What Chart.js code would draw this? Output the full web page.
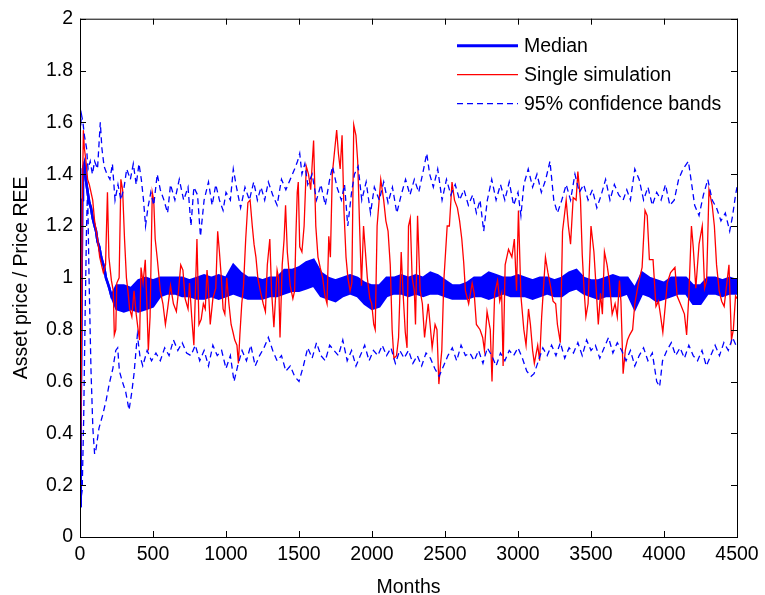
<!DOCTYPE html>
<html>
<head>
<meta charset="utf-8">
<script src="https://cdn.jsdelivr.net/npm/chart.js@4.4.1/dist/chart.umd.min.js"></script>
<style>
    body { margin: 0; background: #fff; }
    #wrap { width: 765px; height: 595px; }
</style>
</head>
<body>
<div id="wrap"><canvas id="assetChart" width="765" height="595"></canvas></div>
<script>
// [month, value]
const medianEarly = [
    [0, 0.12], [5, 0.5], [10, 0.9], [15, 1.3], [20, 1.42], [30, 1.44], [40, 1.38], [50, 1.34],
    [64, 1.29], [75, 1.27], [87, 1.23], [100, 1.2], [110, 1.18], [120, 1.14], [132, 1.12],
    [145, 1.08], [155, 1.06], [166, 1.04], [178, 1.0], [190, 0.98], [201, 0.96], [215, 0.93]
];

// upper / lower edge of the thick median band, every 50 months from 250
const medianHigh = [
    0.97, 0.97, 0.96, 0.99, 1.0, 0.99, 1.0, 1.0, 1.0, 1.0, 0.99,
    1.0, 1.01, 1.0, 1.01, 1.0, 1.05, 1.02, 1.0, 1.0, 0.99, 1.0, 1.0, 1.03, 1.03, 1.04,
    1.06, 1.07, 1.02, 1.0, 0.99, 1.0, 1.01, 1.0, 0.98, 0.97, 0.97, 1.0, 1.0, 1.01, 1.0,
    1.01, 1.0, 1.02, 1.01, 0.99, 0.97, 0.97, 0.98, 1.0, 1.0, 1.02, 1.01, 1.0, 1.0, 1.01,
    1.0, 0.99, 1.0, 1.0, 0.99, 1.0, 1.02, 1.03, 1.0, 0.99, 0.99, 1.0, 1.01, 1.0, 1.0,
    0.96, 1.02, 1.0, 0.99, 0.98, 1.0, 1.0, 1.0, 0.97, 0.97, 1.0, 1.0, 0.99, 1.0, 0.99
];
const medianLow = [
    0.88, 0.87, 0.88, 0.87, 0.88, 0.89, 0.93, 0.94, 0.94, 0.93, 0.93,
    0.92, 0.92, 0.93, 0.92, 0.93, 0.94, 0.93, 0.92, 0.92, 0.92, 0.93, 0.93, 0.94, 0.95, 0.95,
    0.96, 0.97, 0.93, 0.92, 0.91, 0.93, 0.94, 0.93, 0.9, 0.88, 0.89, 0.93, 0.94, 0.94, 0.93,
    0.94, 0.93, 0.94, 0.94, 0.93, 0.92, 0.92, 0.92, 0.93, 0.93, 0.92, 0.93, 0.94, 0.93, 0.93,
    0.93, 0.92, 0.93, 0.94, 0.93, 0.93, 0.95, 0.96, 0.94, 0.93, 0.92, 0.93, 0.93, 0.93, 0.94,
    0.88, 0.94, 0.93, 0.91, 0.92, 0.93, 0.94, 0.94, 0.9, 0.9, 0.94, 0.94, 0.93, 0.94, 0.94
];

const singleSimulation = [
    [0, 0.12], [8, 0.6], [15, 1.25], [23, 1.57], [30, 1.5], [41, 1.45], [52, 1.38], [64, 1.36], [87, 1.3],
    [100, 1.22], [120, 1.15], [135, 1.08], [160, 1.02], [175, 1.05], [188, 1.33], [198, 1.08], [215, 0.99],
    [228, 0.95], [235, 0.78], [245, 0.8], [252, 0.98], [268, 1.0], [280, 1.38], [292, 1.34], [305, 1.15],
    [318, 1.0], [328, 0.95], [340, 0.88], [355, 0.85], [370, 0.95], [385, 0.86], [398, 0.8], [408, 0.76],
    [418, 1.04], [432, 0.98], [447, 1.07], [458, 0.9], [468, 0.72], [480, 0.85], [495, 1.33], [505, 1.3],
    [515, 1.15], [530, 1.07], [550, 0.95], [568, 0.9], [585, 0.82], [600, 0.88], [620, 0.97], [640, 0.9],
    [660, 0.87], [675, 0.95], [690, 1.05], [705, 1.03], [720, 0.92], [740, 0.88], [750, 0.98], [765, 0.85],
    [780, 0.74], [801, 1.15], [815, 0.82], [830, 0.84], [845, 0.9], [858, 0.88], [870, 1.03], [880, 0.95],
    [892, 0.82], [910, 0.92], [930, 0.96], [943, 1.18], [955, 1.1], [968, 1.0], [980, 0.88], [992, 0.86],
    [1005, 1.0], [1020, 0.9], [1035, 0.82], [1048, 0.79], [1060, 0.76], [1075, 0.74], [1085, 0.67],
    [1095, 0.78], [1108, 0.9], [1120, 0.97], [1135, 1.15], [1150, 1.29], [1165, 1.3], [1180, 1.2],
    [1192, 1.13], [1205, 1.08], [1218, 1.0], [1235, 0.95], [1255, 0.9], [1270, 0.87], [1283, 1.05],
    [1300, 1.15], [1312, 0.95], [1328, 0.81], [1350, 1.03], [1360, 1.0], [1370, 0.77], [1385, 1.05],
    [1398, 1.15], [1408, 1.28], [1420, 1.1], [1440, 0.97], [1458, 0.92], [1470, 0.95], [1478, 1.15],
    [1488, 1.33], [1495, 1.37], [1505, 1.12], [1520, 1.1], [1535, 1.2], [1550, 1.43], [1565, 1.4],
    [1580, 1.34], [1600, 1.53], [1615, 1.2], [1630, 1.08], [1645, 1.04], [1662, 1.0], [1678, 0.93],
    [1692, 0.9], [1704, 1.16], [1715, 1.08], [1728, 1.4], [1742, 1.48], [1758, 1.57], [1770, 1.48],
    [1782, 1.42], [1795, 1.55], [1808, 1.26], [1822, 1.08], [1835, 1.0], [1850, 0.95], [1862, 0.98],
    [1875, 1.59], [1890, 1.55], [1902, 1.45], [1915, 1.2], [1928, 0.97], [1942, 1.2], [1955, 1.1],
    [1968, 1.0], [1985, 0.92], [1998, 0.9], [2012, 0.82], [2022, 0.8], [2035, 1.2], [2060, 1.38],
    [2080, 1.3], [2095, 1.22], [2110, 1.18], [2125, 1.05], [2138, 0.8], [2150, 0.69], [2168, 0.7],
    [2182, 0.77], [2200, 1.1], [2212, 0.95], [2228, 0.79], [2240, 0.73], [2250, 1.2], [2262, 1.23],
    [2275, 1.0], [2290, 0.95], [2298, 0.82], [2312, 1.24], [2330, 0.95], [2345, 0.9], [2360, 0.77],
    [2385, 0.9], [2398, 0.82], [2412, 0.73], [2432, 0.82], [2445, 0.8], [2458, 0.59], [2470, 0.67],
    [2478, 0.72], [2492, 0.99], [2515, 1.2], [2530, 1.2], [2548, 1.37], [2565, 1.3], [2585, 1.27],
    [2600, 1.22], [2615, 1.15], [2628, 1.06], [2640, 0.95], [2662, 0.9], [2686, 0.98], [2700, 0.94],
    [2715, 0.82], [2740, 0.8], [2758, 0.77], [2770, 0.72], [2788, 0.87], [2810, 0.8], [2822, 0.6],
    [2840, 0.94], [2860, 0.99], [2875, 0.91], [2888, 0.94], [2898, 0.66], [2912, 1.05], [2935, 1.11],
    [2958, 1.08], [2975, 1.15], [2990, 0.95], [3003, 1.26], [3020, 0.93], [3040, 0.8], [3055, 0.74],
    [3072, 0.88], [3085, 0.82], [3100, 0.72], [3112, 0.67], [3135, 0.74], [3148, 0.68], [3162, 0.85],
    [3188, 1.08], [3205, 1.02], [3225, 0.96], [3240, 0.91], [3258, 0.9], [3270, 0.82], [3290, 0.75],
    [3305, 1.18], [3330, 1.3], [3345, 1.2], [3360, 1.13], [3378, 1.31], [3398, 1.3], [3410, 1.41],
    [3428, 1.3], [3440, 1.09], [3452, 0.96], [3465, 0.85], [3480, 0.9], [3500, 1.2], [3520, 1.1],
    [3532, 0.99], [3550, 0.82], [3565, 0.94], [3578, 0.86], [3592, 1.1], [3610, 1.05], [3625, 0.99],
    [3645, 0.86], [3665, 0.9], [3680, 0.85], [3695, 0.99], [3705, 0.91], [3720, 0.63], [3735, 0.72],
    [3750, 0.76], [3765, 0.78], [3785, 0.8], [3800, 0.9], [3825, 0.98], [3850, 1.04], [3870, 1.26],
    [3885, 1.24], [3900, 1.07], [3925, 1.07], [3945, 0.89], [3962, 0.91], [3975, 0.86], [3992, 0.79],
    [4010, 0.9], [4022, 0.98], [4045, 1.02], [4075, 1.04], [4090, 0.93], [4112, 0.9], [4140, 0.86],
    [4155, 0.78], [4170, 0.93], [4188, 1.2], [4200, 1.12], [4218, 0.96], [4240, 1.13], [4262, 1.2],
    [4278, 0.96], [4292, 0.99], [4308, 1.34], [4330, 1.28], [4345, 1.2], [4360, 1.05], [4378, 0.95],
    [4395, 0.91], [4412, 0.89], [4445, 1.05], [4462, 0.76], [4475, 0.8], [4490, 0.93], [4500, 0.92]
];

const upperBand = [
    [0, 1.55], [10, 1.63], [20, 1.6], [30, 1.55], [45, 1.5], [55, 1.42], [70, 1.45], [85, 1.4], [100, 1.45],
    [120, 1.42], [139, 1.6], [150, 1.5], [165, 1.43], [185, 1.4], [205, 1.38], [222, 1.44], [240, 1.3],
    [260, 1.36], [280, 1.3], [302, 1.35], [320, 1.42], [345, 1.38], [365, 1.44], [385, 1.36], [404, 1.44],
    [420, 1.38], [435, 1.3], [449, 1.2], [465, 1.27], [485, 1.33], [505, 1.28], [529, 1.4], [550, 1.34],
    [575, 1.3], [600, 1.25], [620, 1.36], [650, 1.3], [680, 1.38], [710, 1.3], [740, 1.35], [760, 1.2],
    [780, 1.35], [805, 1.32], [825, 1.16], [850, 1.3], [880, 1.37], [905, 1.28], [930, 1.36], [955, 1.3],
    [980, 1.26], [1000, 1.33], [1030, 1.3], [1050, 1.42], [1075, 1.34], [1100, 1.27], [1130, 1.35],
    [1160, 1.3], [1190, 1.37], [1215, 1.3], [1240, 1.35], [1265, 1.3], [1290, 1.37], [1320, 1.32],
    [1350, 1.28], [1380, 1.38], [1410, 1.34], [1440, 1.38], [1470, 1.42], [1490, 1.45], [1505, 1.48],
    [1520, 1.4], [1540, 1.44], [1560, 1.36], [1590, 1.4], [1620, 1.3], [1650, 1.36], [1680, 1.28],
    [1710, 1.38], [1730, 1.43], [1760, 1.35], [1790, 1.3], [1812, 1.36], [1834, 1.2], [1860, 1.33],
    [1880, 1.4], [1905, 1.43], [1930, 1.3], [1960, 1.37], [1990, 1.25], [2016, 1.35], [2050, 1.3],
    [2080, 1.37], [2110, 1.29], [2140, 1.35], [2170, 1.25], [2200, 1.32], [2230, 1.38], [2260, 1.32],
    [2290, 1.38], [2320, 1.33], [2350, 1.41], [2375, 1.48], [2395, 1.4], [2420, 1.35], [2450, 1.42],
    [2480, 1.3], [2510, 1.38], [2540, 1.32], [2570, 1.36], [2600, 1.3], [2630, 1.34], [2660, 1.28],
    [2690, 1.32], [2715, 1.25], [2740, 1.3], [2765, 1.18], [2790, 1.3], [2820, 1.38], [2850, 1.3],
    [2880, 1.36], [2910, 1.3], [2940, 1.37], [2970, 1.28], [3000, 1.33], [3020, 1.24], [3040, 1.36],
    [3070, 1.42], [3100, 1.35], [3130, 1.4], [3160, 1.33], [3190, 1.38], [3219, 1.45], [3245, 1.3],
    [3270, 1.25], [3300, 1.3], [3330, 1.36], [3360, 1.3], [3390, 1.4], [3420, 1.33], [3450, 1.36],
    [3480, 1.3], [3510, 1.34], [3540, 1.27], [3570, 1.32], [3600, 1.38], [3630, 1.3], [3660, 1.36],
    [3690, 1.32], [3720, 1.3], [3745, 1.34], [3770, 1.3], [3800, 1.42], [3830, 1.38], [3860, 1.3],
    [3890, 1.35], [3920, 1.28], [3950, 1.33], [3980, 1.3], [4010, 1.36], [4040, 1.28], [4070, 1.3],
    [4100, 1.38], [4130, 1.42], [4167, 1.45], [4190, 1.36], [4210, 1.28], [4240, 1.24], [4270, 1.32],
    [4300, 1.38], [4330, 1.3], [4360, 1.27], [4390, 1.22], [4420, 1.25], [4450, 1.18], [4470, 1.24],
    [4490, 1.32], [4500, 1.35]
];

const lowerBand = [
    [0, 0.12], [15, 0.18], [25, 0.45], [35, 0.85], [45, 1.2], [52, 1.35], [62, 1.0], [75, 0.65], [88, 0.42],
    [100, 0.32], [110, 0.34], [130, 0.42], [155, 0.47], [180, 0.53], [200, 0.59], [225, 0.65], [245, 0.72],
    [258, 0.73], [270, 0.64], [290, 0.6], [313, 0.56], [336, 0.49], [355, 0.56], [370, 0.63], [393, 0.78],
    [410, 0.7], [430, 0.66], [460, 0.72], [490, 0.68], [520, 0.71], [550, 0.68], [580, 0.73], [610, 0.7],
    [640, 0.76], [670, 0.72], [700, 0.75], [730, 0.71], [760, 0.7], [790, 0.74], [820, 0.68], [850, 0.72],
    [880, 0.66], [910, 0.74], [940, 0.7], [970, 0.72], [1000, 0.65], [1030, 0.7], [1055, 0.6], [1080, 0.66],
    [1110, 0.72], [1140, 0.68], [1170, 0.74], [1200, 0.66], [1230, 0.7], [1260, 0.73], [1290, 0.77],
    [1320, 0.72], [1350, 0.68], [1380, 0.7], [1410, 0.64], [1440, 0.66], [1470, 0.62], [1500, 0.6],
    [1530, 0.66], [1560, 0.73], [1590, 0.69], [1620, 0.75], [1650, 0.7], [1680, 0.68], [1710, 0.74],
    [1740, 0.72], [1770, 0.7], [1800, 0.76], [1830, 0.68], [1860, 0.72], [1890, 0.66], [1920, 0.7],
    [1950, 0.74], [1980, 0.68], [2010, 0.72], [2040, 0.7], [2070, 0.74], [2100, 0.7], [2130, 0.73],
    [2160, 0.67], [2190, 0.72], [2220, 0.69], [2250, 0.72], [2280, 0.67], [2310, 0.7], [2340, 0.66],
    [2370, 0.71], [2400, 0.69], [2430, 0.65], [2460, 0.62], [2490, 0.66], [2520, 0.7], [2550, 0.73],
    [2580, 0.68], [2610, 0.74], [2640, 0.7], [2670, 0.71], [2700, 0.68], [2730, 0.72], [2760, 0.67],
    [2790, 0.73], [2820, 0.7], [2850, 0.66], [2880, 0.71], [2910, 0.68], [2940, 0.72], [2970, 0.7],
    [3000, 0.73], [3030, 0.69], [3060, 0.64], [3090, 0.62], [3110, 0.63], [3140, 0.68], [3170, 0.73],
    [3200, 0.7], [3230, 0.74], [3260, 0.7], [3290, 0.75], [3320, 0.69], [3350, 0.73], [3380, 0.71],
    [3410, 0.75], [3440, 0.7], [3470, 0.76], [3500, 0.72], [3530, 0.74], [3560, 0.69], [3590, 0.73],
    [3620, 0.77], [3650, 0.71], [3680, 0.75], [3710, 0.72], [3740, 0.68], [3770, 0.72], [3800, 0.66],
    [3830, 0.7], [3860, 0.73], [3890, 0.68], [3920, 0.71], [3950, 0.6], [3970, 0.58], [3990, 0.68],
    [4020, 0.72], [4050, 0.75], [4080, 0.7], [4110, 0.73], [4140, 0.69], [4170, 0.74], [4200, 0.7],
    [4230, 0.68], [4260, 0.72], [4290, 0.66], [4320, 0.7], [4350, 0.74], [4380, 0.7], [4410, 0.75],
    [4440, 0.72], [4470, 0.77], [4500, 0.73]
];

const xTicks = [0, 500, 1000, 1500, 2000, 2500, 3000, 3500, 4000, 4500];
const yTicks = [0, 0.2, 0.4, 0.6, 0.8, 1, 1.2, 1.4, 1.6, 1.8, 2];

const FONT = "'Liberation Sans', Arial, Helvetica, sans-serif";

function toPoints(pairs) {
    return pairs.map(p => ({ x: p[0], y: p[1] }));
}

// median band edge: early descent followed by one edge of the band
function medianEdge(edge) {
    const pts = toPoints(medianEarly);
    edge.forEach((v, i) => pts.push({ x: 250 + 50 * i, y: v }));
    return pts;
}

const legendEntries = [
    { text: 'Median', color: '#0000ff', width: 3, dash: [] },
    { text: 'Single simulation', color: '#ff0000', width: 1.3, dash: [] },
    { text: '95% confidence bands', color: '#0000ff', width: 1.3, dash: [6, 4] }
];

const matlabFrame = {
    id: 'matlabFrame',
    afterDraw(chart) {
        const ctx = chart.ctx;
        const a = chart.chartArea;
        const xs = chart.scales.x;
        const ys = chart.scales.y;
        ctx.save();
        ctx.strokeStyle = '#000';
        ctx.lineWidth = 1;
        ctx.setLineDash([]);
        ctx.strokeRect(a.left + 0.5, a.top + 0.5, a.right - a.left, a.bottom - a.top);

        // inward tick marks on all four sides
        ctx.beginPath();
        xTicks.forEach(v => {
            const px = Math.round(xs.getPixelForValue(v)) + 0.5;
            ctx.moveTo(px, a.bottom); ctx.lineTo(px, a.bottom - 6);
            ctx.moveTo(px, a.top); ctx.lineTo(px, a.top + 6);
        });
        yTicks.forEach(v => {
            const py = Math.round(ys.getPixelForValue(v)) + 0.5;
            ctx.moveTo(a.left, py); ctx.lineTo(a.left + 6, py);
            ctx.moveTo(a.right, py); ctx.lineTo(a.right - 6, py);
        });
        ctx.stroke();

        // legend, top right inside the axes
        const lx = a.right - 280;
        let ly = a.top + 27;
        ctx.font = '19.5px ' + FONT;
        ctx.textBaseline = 'middle';
        ctx.fillStyle = '#000';
        legendEntries.forEach(e => {
            ctx.beginPath();
            ctx.strokeStyle = e.color;
            ctx.lineWidth = e.width;
            ctx.setLineDash(e.dash);
            ctx.moveTo(lx, ly);
            ctx.lineTo(lx + 61, ly);
            ctx.stroke();
            ctx.setLineDash([]);
            ctx.fillText(e.text, lx + 67, ly + 1);
            ly += 29;
        });
        ctx.restore();
    }
};

const ctx = document.getElementById('assetChart').getContext('2d');
const assetChart = new Chart(ctx, {
    type: 'line',
    data: {
        datasets: [
            {
                label: '95% confidence bands',
                data: toPoints(upperBand),
                borderColor: '#0000ff',
                borderWidth: 1.3,
                borderDash: [6, 4],
                order: 0
            },
            {
                label: '95% confidence bands (lower)',
                data: toPoints(lowerBand),
                borderColor: '#0000ff',
                borderWidth: 1.3,
                borderDash: [6, 4],
                order: 0
            },
            {
                label: 'Single simulation',
                data: toPoints(singleSimulation),
                borderColor: '#ff0000',
                borderWidth: 1.3,
                order: 1
            },
            {
                label: 'Median',
                data: medianEdge(medianHigh),
                borderColor: '#0000ff',
                borderWidth: 2.5,
                order: 2
            },
            {
                label: 'Median (low edge)',
                data: medianEdge(medianLow),
                borderColor: '#0000ff',
                backgroundColor: '#0000ff',
                borderWidth: 2.5,
                fill: '-1',
                order: 2
            }
        ]
    },
    options: {
        responsive: false,
        animation: false,
        parsing: false,
        elements: {
            point: { radius: 0, hoverRadius: 0 },
            line: { tension: 0, fill: false, borderCapStyle: 'butt', borderJoinStyle: 'miter' }
        },
        layout: { padding: { top: 15, right: 28, left: 0, bottom: 0 } },
        plugins: {
            legend: { display: false },
            tooltip: { enabled: false }
        },
        scales: {
            x: {
                type: 'linear',
                min: 0,
                max: 4500,
                afterFit: function(scale) { scale.height = 58; },
                afterBuildTicks: function(scale) { scale.ticks = xTicks.map(v => ({ value: v })); },
                grid: { display: true, drawOnChartArea: false, drawTicks: false },
                border: { display: false },
                ticks: {
                    padding: 6,
                    color: '#000',
                    maxRotation: 0,
                    font: { family: FONT, size: 19.5 },
                    callback: function(value) { return String(value); }
                },
                title: {
                    display: true,
                    text: 'Months',
                    color: '#000',
                    font: { family: FONT, size: 19.5, lineHeight: 1 },
                    padding: { top: 0, bottom: -2 }
                }
            },
            y: {
                min: 0,
                max: 2,
                afterFit: function(scale) { scale.width = 80; },
                afterBuildTicks: function(scale) { scale.ticks = yTicks.map(v => ({ value: v })); },
                grid: { display: true, drawOnChartArea: false, drawTicks: false },
                border: { display: false },
                ticks: {
                    padding: 7,
                    color: '#000',
                    font: { family: FONT, size: 19.5 },
                    callback: function(value) { return String(+value.toFixed(1)); }
                },
                title: {
                    display: true,
                    text: 'Asset price / Price REE',
                    color: '#000',
                    font: { family: FONT, size: 19.5, lineHeight: 1 },
                    padding: { top: 12, bottom: 0 }
                }
            }
        }
    },
    plugins: [matlabFrame]
});
</script>
</body>
</html>
